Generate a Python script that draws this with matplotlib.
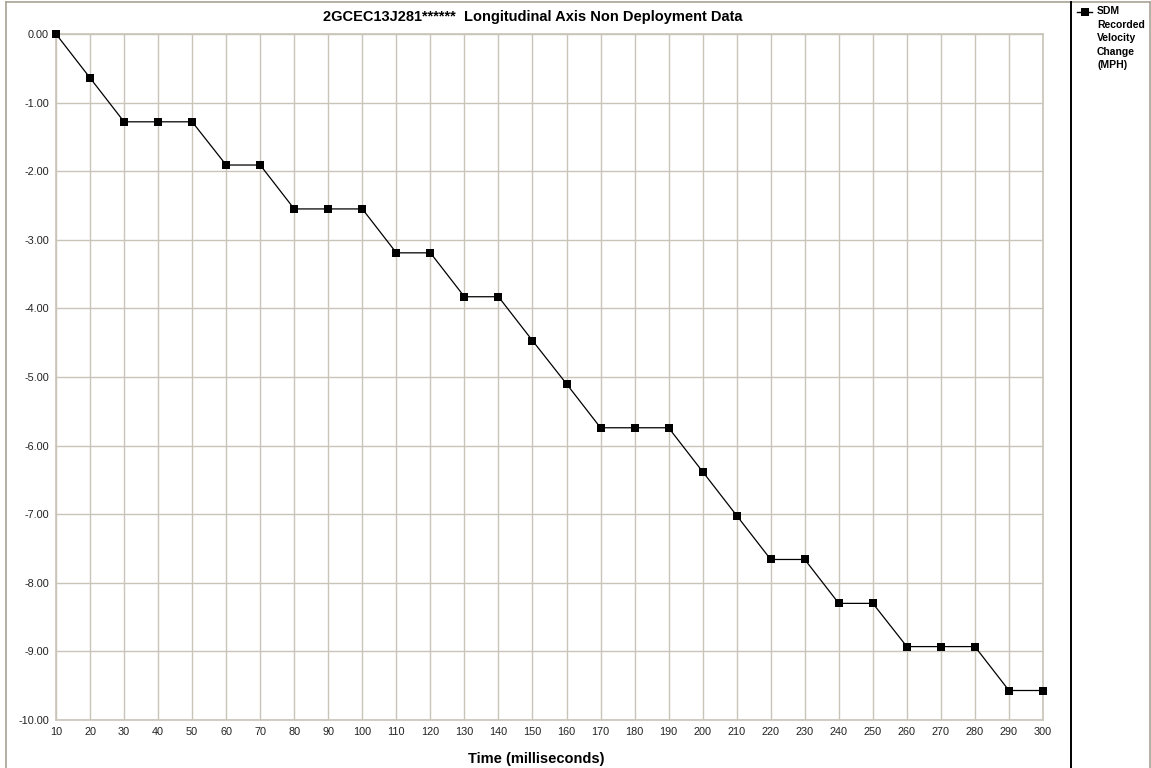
import numpy as np
import matplotlib
matplotlib.use("Agg")
import matplotlib.pyplot as plt
from matplotlib.lines import Line2D

# SDM longitudinal velocity change samples, every 10 ms
time_ms = list(range(10, 301, 10))
delta_v = [0.00, -0.64, -1.28, -1.28, -1.28, -1.91, -1.91, -2.55, -2.55, -2.55,
           -3.19, -3.19, -3.83, -3.83, -4.47, -5.10, -5.74, -5.74, -5.74, -6.38,
           -7.02, -7.66, -7.66, -8.30, -8.30, -8.93, -8.93, -8.93, -9.57, -9.57]
y_ticks = np.arange(0, -10.5, -1.0)

title = "2GCEC13J281******  Longitudinal Axis Non Deployment Data"
legend_label = "SDM\nRecorded\nVelocity\nChange\n(MPH)"

plt.rcParams["font.family"] = ["Liberation Sans", "DejaVu Sans"]
grid_col = "#c8c4b8"
W, H = 1151, 768

fig = plt.figure(figsize=(W / 100, H / 100), dpi=100)
ax = fig.add_axes([56 / W, 1 - 720 / H, (1043 - 56) / W, (720 - 34) / H])

ax.plot(time_ms, delta_v, color="black", linewidth=0.9,
        marker="s", markersize=5.5, markeredgewidth=0, clip_on=False, zorder=3)

ax.set_xlim(10, 300)
ax.set_ylim(-10, 0)
ax.set_xticks(time_ms)
ax.set_yticks(y_ticks)
ax.set_yticklabels([f"{v:.2f}" for v in y_ticks])
ax.tick_params(length=0, labelsize=7.8, pad=5, labelcolor="#222222")
ax.grid(True, color=grid_col, linewidth=1.0)
ax.set_axisbelow(True)
for s in ax.spines.values():
    s.set_color(grid_col)
    s.set_linewidth(1.2)

ax.set_title(title, fontsize=10.5, fontweight="bold", pad=9, x=0.483)
ax.set_xlabel("Time (milliseconds)", fontsize=10.5, fontweight="bold")
ax.xaxis.set_label_coords(0.487, -0.047, transform=ax.transAxes)
ax.xaxis.label.set_va("top")

# outer frame and legend panel
fx = lambda px: px / W
fy = lambda py: 1 - py / H
fig.add_artist(Line2D([fx(6), fx(6)], [0, fy(2)], color="#a8a292", lw=1.2))
fig.add_artist(Line2D([fx(6), fx(1150)], [fy(2), fy(2)], color="#a8a292", lw=1.2))
fig.add_artist(Line2D([fx(1150), fx(1150)], [0, fy(2)], color="#a8a292", lw=1.2))
fig.add_artist(Line2D([fx(1071), fx(1071)], [0, fy(2)], color="black", lw=1.4))

fig.add_artist(Line2D([fx(1077), fx(1092)], [fy(12), fy(12)], color="black", lw=1.0))
fig.add_artist(Line2D([fx(1085)], [fy(12)], color="black", marker="s",
                      markersize=5.5, markeredgewidth=0))
fig.text(fx(1097), fy(6), legend_label, fontsize=7.5, fontweight="bold",
         va="top", ha="left", linespacing=1.45)

fig.savefig("out.png", dpi=100)
